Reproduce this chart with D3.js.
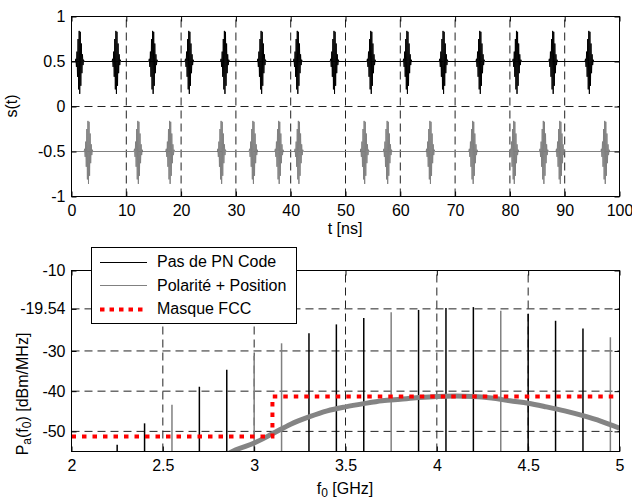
<!DOCTYPE html>
<html>
<head>
<meta charset="utf-8">
<script src="https://cdn.jsdelivr.net/npm/d3@7"></script>
<style>
  body { margin: 0; background: #fff; }
  text { font-family: "Liberation Sans", Arial, sans-serif; font-size: 16px; fill: #000; }
  .grid line { stroke: #222; stroke-width: 1; stroke-dasharray: 8,5; }
  .ax path, .ax line { stroke: #000; }
</style>
</head>
<body>
<div id="chart"></div>
<script>
// --- données ---
// haut : positions des impulsions (ns)
var pulsesPN = [1.5, 8.2, 14.9, 21.5, 28.0, 34.7, 41.3, 48.0, 54.7, 61.3, 67.9, 74.6, 81.3, 87.9, 94.5];
var pulsesPP = [3.1, 12.2, 18.0, 27.4, 33.2, 37.9, 41.5, 53.5, 57.7, 65.5, 73.3, 80.8, 86.2, 89.2, 97.4];
// forme d'une impulsion, pas de 0.1 ns
var pulseShape = [0, 0.03, -0.06, 0.11, -0.17, 0.25, -0.31, 0.34, -0.36, 0.33, -0.27, 0.2, -0.13, 0.08, -0.04, 0.02, 0];
var tTicks = [0, 10, 20, 30, 40, 50, 60, 70, 80, 90, 100];
var sTicks = [-1, -0.5, 0, 0.5, 1];

// bas : raies spectrales (GHz, dBm/MHz)
var lineFreq = [2.25, 2.40, 2.55, 2.70, 2.85, 3.00, 3.15, 3.30, 3.45, 3.60, 3.75, 3.90, 4.05, 4.20, 4.35, 4.50, 4.65, 4.80, 4.95];
var lineLevel = [-53.3, -48.0, -43.4, -38.9, -34.7, -31.2, -28.1, -25.6, -23.4, -21.8, -20.4, -19.8, -19.3, -19.1, -20.0, -20.8, -22.5, -24.4, -26.6];
var lineSerie = ["pn", "pn", "pp", "pn", "pn", "pp", "pp", "pn", "pn", "pn", "pp", "pn", "pn", "pn", "pp", "pn", "pn", "pn", "pp"];
// partie continue (polarité + position)
var psdFreq = [2.86, 2.9, 3.0, 3.1, 3.2, 3.3, 3.4, 3.5, 3.6, 3.7, 3.8, 3.9, 4.0, 4.1, 4.2, 4.3, 4.4, 4.5, 4.6, 4.7, 4.8, 4.9, 5.0];
var psdLevel = [-55.5, -54.6, -52.9, -50.6, -48.2, -46.4, -44.9, -43.9, -43.1, -42.4, -42.0, -41.6, -41.3, -41.2, -41.3, -41.7, -42.4, -43.0, -43.9, -44.9, -46.1, -47.5, -49.2];
// masque FCC
var maskFreq = [2, 3.1, 3.1, 5];
var maskLevel = [-51.3, -51.3, -41.3, -41.3];
var fTicks = [2, 2.5, 3, 3.5, 4, 4.5, 5];
var pTicks = [-50, -40, -30, -19.54, -10];

var width = 632, height = 500;
var margin = { left: 71.5, right: 12.5 };

var svg = d3.select("#chart").append("svg")
    .attr("width", width)
    .attr("height", height);

var x1 = d3.scaleLinear().domain([0, 100]).range([margin.left, width - margin.right]);
var y1 = d3.scaleLinear().domain([-1, 1]).range([196.5, 16.5]);
var x2 = d3.scaleLinear().domain([2, 5]).range([margin.left, width - margin.right]);
var y2 = d3.scaleLinear().domain([-55, -10]).range([451.5, 270.5]);

function grille(g, xs, ys, xt, yt) {
    var gr = g.append("g").attr("class", "grid");
    gr.selectAll(".gv").data(xt.slice(1, -1)).enter().append("line")
        .attr("x1", function(d) { return xs(d); }).attr("x2", function(d) { return xs(d); })
        .attr("y1", ys.range()[0]).attr("y2", ys.range()[1]);
    gr.selectAll(".gh").data(yt.filter(function(d) { return d > ys.domain()[0] && d < ys.domain()[1]; })).enter().append("line")
        .attr("y1", function(d) { return ys(d); }).attr("y2", function(d) { return ys(d); })
        .attr("x1", xs.range()[0]).attr("x2", xs.range()[1]);
}

function axes(g, xs, ys, xt, yt) {
    var y0 = ys.range()[0], yT = ys.range()[1];
    var xa = g.append("g").attr("class", "ax").attr("transform", "translate(0," + y0 + ")")
        .call(d3.axisBottom(xs).tickValues(xt).tickSizeInner(-5).tickSizeOuter(0).tickPadding(8).tickFormat(String));
    xa.select(".domain").remove();
    var ya = g.append("g").attr("class", "ax").attr("transform", "translate(" + xs.range()[0] + ",0)")
        .call(d3.axisLeft(ys).tickValues(yt).tickSizeInner(-5).tickSizeOuter(0).tickPadding(6).tickFormat(String));
    ya.select(".domain").remove();
    g.append("g").attr("class", "ax").attr("transform", "translate(0," + yT + ")")
        .call(d3.axisTop(xs).tickValues(xt).tickSizeInner(-5).tickSizeOuter(0).tickFormat(""))
        .select(".domain").remove();
    g.append("g").attr("class", "ax").attr("transform", "translate(" + xs.range()[1] + ",0)")
        .call(d3.axisRight(ys).tickValues(yt).tickSizeInner(-5).tickSizeOuter(0).tickFormat(""))
        .select(".domain").remove();
    g.selectAll(".ax text").style("font-size", "16px").style("font-family", "'Liberation Sans', Arial, sans-serif").attr("fill", "#000");
    g.append("rect")
        .attr("x", xs.range()[0]).attr("y", yT)
        .attr("width", xs.range()[1] - xs.range()[0]).attr("height", y0 - yT)
        .attr("fill", "none").attr("stroke", "#000").attr("stroke-width", 1);
}

// ---------- graphique du haut ----------
var haut = svg.append("g");
grille(haut, x1, y1, tTicks, sTicks);

function signal(positions, base) {
    var pts = [[0, base]];
    var half = (pulseShape.length - 1) / 2;
    positions.forEach(function(p) {
        pulseShape.forEach(function(v, i) {
            pts.push([p + (i - half) * 0.1, base + v]);
        });
    });
    pts.push([100, base]);
    return pts;
}
var ligne1 = d3.line().x(function(d) { return x1(d[0]); }).y(function(d) { return y1(d[1]); });
haut.append("path").datum(signal(pulsesPN, 0.5)).attr("d", ligne1)
    .attr("fill", "none").attr("stroke", "#000").attr("stroke-width", 1);
haut.append("path").datum(signal(pulsesPP, -0.5)).attr("d", ligne1)
    .attr("fill", "none").attr("stroke", "#808080").attr("stroke-width", 1);
axes(haut, x1, y1, tTicks, sTicks);

haut.append("text").attr("transform", "translate(17,106) rotate(-90)")
    .attr("text-anchor", "middle").text("s(t)");
haut.append("text").attr("x", 345).attr("y", 234).attr("text-anchor", "middle").text("t [ns]");

// ---------- graphique du bas ----------
var bas = svg.append("g");
svg.append("clipPath").attr("id", "clipBas").append("rect")
    .attr("x", 71).attr("y", 270).attr("width", 549).attr("height", 182);
grille(bas, x2, y2, fTicks, pTicks);

var raies = lineFreq.map(function(f, i) { return { f: f, p: lineLevel[i], s: lineSerie[i] }; });
var plot = bas.append("g").attr("clip-path", "url(#clipBas)");
plot.selectAll(".raie").data(raies).enter().append("line")
    .attr("x1", function(d) { return x2(d.f); }).attr("x2", function(d) { return x2(d.f); })
    .attr("y1", y2(-55)).attr("y2", function(d) { return y2(d.p); })
    .attr("stroke", function(d) { return d.s === "pn" ? "#000" : "#808080"; })
    .attr("stroke-width", 1.5);

var ligne2 = d3.line().x(function(d) { return x2(d[0]); }).y(function(d) { return y2(d[1]); });
plot.append("path").datum(psdFreq.map(function(f, i) { return [f, psdLevel[i]]; }))
    .attr("d", ligne2.curve(d3.curveMonotoneX))
    .attr("fill", "none").attr("stroke", "#848484").attr("stroke-width", 5);
plot.append("path").datum(maskFreq.map(function(f, i) { return [f, maskLevel[i]]; }))
    .attr("d", d3.line().x(function(d) { return x2(d[0]); }).y(function(d) { return y2(d[1]); }))
    .attr("fill", "none").attr("stroke", "#ff0000").attr("stroke-width", 4).attr("stroke-dasharray", "4.5,6");

axes(bas, x2, y2, fTicks, pTicks);

// légende
var leg = bas.append("g");
leg.append("rect").attr("x", 91.5).attr("y", 247.5).attr("width", 205).attr("height", 76)
    .attr("fill", "#fff").attr("stroke", "#000").attr("stroke-width", 1);
var entrees = [
    { t: "Pas de PN Code", c: "#000", w: 1, dash: null },
    { t: "Polarité + Position", c: "#808080", w: 1, dash: null },
    { t: "Masque FCC", c: "#ff0000", w: 4, dash: "4.5,5" }
];
entrees.forEach(function(e, i) {
    var yy = 261.5 + i * 23.5;
    leg.append("line").attr("x1", 100).attr("x2", 147).attr("y1", Math.round(yy) + 0.5).attr("y2", Math.round(yy) + 0.5)
        .attr("stroke", e.c).attr("stroke-width", e.w).attr("stroke-dasharray", e.dash);
    leg.append("text").attr("x", 157).attr("y", yy + 5.5).text(e.t);
});

// titres des axes
var yl = bas.append("text").attr("transform", "translate(28,394) rotate(-90)").attr("text-anchor", "middle");
yl.append("tspan").text("P");
yl.append("tspan").attr("baseline-shift", "-25%").style("font-size", "12px").text("a");
yl.append("tspan").text("(f");
yl.append("tspan").attr("baseline-shift", "-25%").style("font-size", "12px").text("0");
yl.append("tspan").text(") [dBm/MHz]");

var xl = bas.append("text").attr("x", 345).attr("y", 494).attr("text-anchor", "middle");
xl.append("tspan").text("f");
xl.append("tspan").attr("baseline-shift", "-25%").style("font-size", "12px").text("0");
xl.append("tspan").text(" [GHz]");
</script>
</body>
</html>
